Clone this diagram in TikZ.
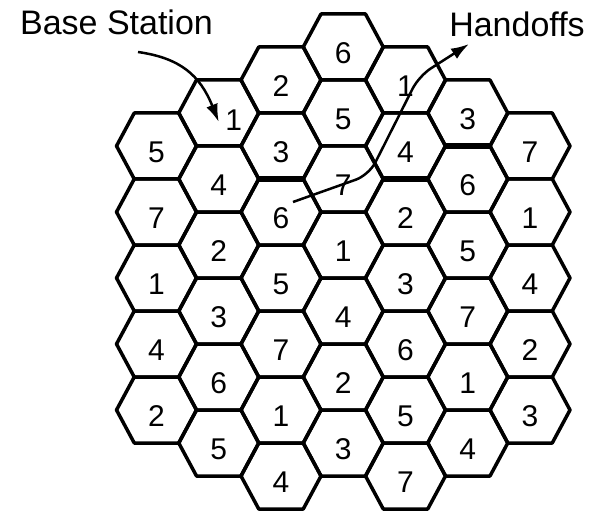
\documentclass[tikz,border=0pt]{standalone}
\usepackage{fontspec}
\setmainfont{Liberation Sans}
\usetikzlibrary{arrows.meta}
\begin{document}
\begin{tikzpicture}[x=1pt,y=-1pt]

\tikzstyle{cell} = [font=\fontsize{30}{30}\selectfont, inner sep=0pt]
\tikzstyle{hexline} = [line width=3.5pt, line join=round]
\tikzstyle{handoff} = [line width=6.5pt]
\tikzstyle{caption} = [font=\fontsize{34}{34}\selectfont, inner sep=0pt, anchor=base]
\tikzstyle{arrow} = [line width=2.5pt, -{Latex[length=18pt,width=12pt]}]

\useasboundingbox (0,0) rectangle (599,513);

% cells: column/row/channel
\foreach \c/\r/\n in {0/1/5, 0/2/7, 0/3/1, 0/4/4, 0/5/2,
                      1/1/1, 1/2/4, 1/3/2, 1/4/3, 1/5/6, 1/6/5,
                      2/0/2, 2/1/3, 2/2/6, 2/3/5, 2/4/7, 2/5/1, 2/6/4,
                      3/0/6, 3/1/5, 3/2/7, 3/3/1, 3/4/4, 3/5/2, 3/6/3,
                      4/0/1, 4/1/4, 4/2/2, 4/3/3, 4/4/6, 4/5/5, 4/6/7,
                      5/1/3, 5/2/6, 5/3/5, 5/4/7, 5/5/1, 5/6/4,
                      6/1/7, 6/2/1, 6/3/4, 6/4/2, 6/5/3} {
  \coordinate (h\c\r) at ({156.5+62.25*\c}, {80+66*\r-33*mod(\c,2)});
  \draw[hexline] (h\c\r) ++(-40,0) -- ++(17.75,-33) -- ++(44.5,0) -- ++(17.75,33)
                 -- ++(-17.75,33) -- ++(-44.5,0) -- cycle;
}

% handoff borders
\draw[handoff] ([shift={(-22.25,33)}]h21) -- ([shift={(22.25,33)}]h21);
\draw[handoff] ([shift={(-22.25,33)}]h41) -- ([shift={(22.25,33)}]h41);
\draw[handoff] ([shift={(-22.25,33)}]h51) -- ([shift={(22.25,33)}]h51);

% channel numbers
\foreach \c/\r/\n in {0/1/5, 0/2/7, 0/3/1, 0/4/4, 0/5/2,
                      1/2/4, 1/3/2, 1/4/3, 1/5/6, 1/6/5,
                      2/0/2, 2/1/3, 2/2/6, 2/3/5, 2/4/7, 2/5/1, 2/6/4,
                      3/0/6, 3/1/5, 3/2/7, 3/3/1, 3/4/4, 3/5/2, 3/6/3,
                      4/0/1, 4/1/4, 4/2/2, 4/3/3, 4/4/6, 4/5/5, 4/6/7,
                      5/1/3, 5/2/6, 5/3/5, 5/4/7, 5/5/1, 5/6/4,
                      6/1/7, 6/2/1, 6/3/4, 6/4/2, 6/5/3}
  \node[cell] (n\c\r) at ([yshift=-6pt]h\c\r) {\n};
\node[cell] (n11) at ([shift={(15,7)}]h11) {1};

\node[caption] (base) at (116.5,35) {Base Station};
\node[caption] (hand) at (517,37) {Handoffs};

\coordinate (bsA) at (138,52);
\coordinate (bstip) at ([shift={(0,9)}]h11);
\coordinate (hoA) at (293,202);
\coordinate (hoB) at (469,44);

\draw[arrow] (bsA) .. controls (180,58) and (200,75) .. (bstip);
\draw[arrow, rounded corners=14pt] (hoA) -- (369,175) -- (419,76) -- (hoB);

\end{tikzpicture}
\end{document}
